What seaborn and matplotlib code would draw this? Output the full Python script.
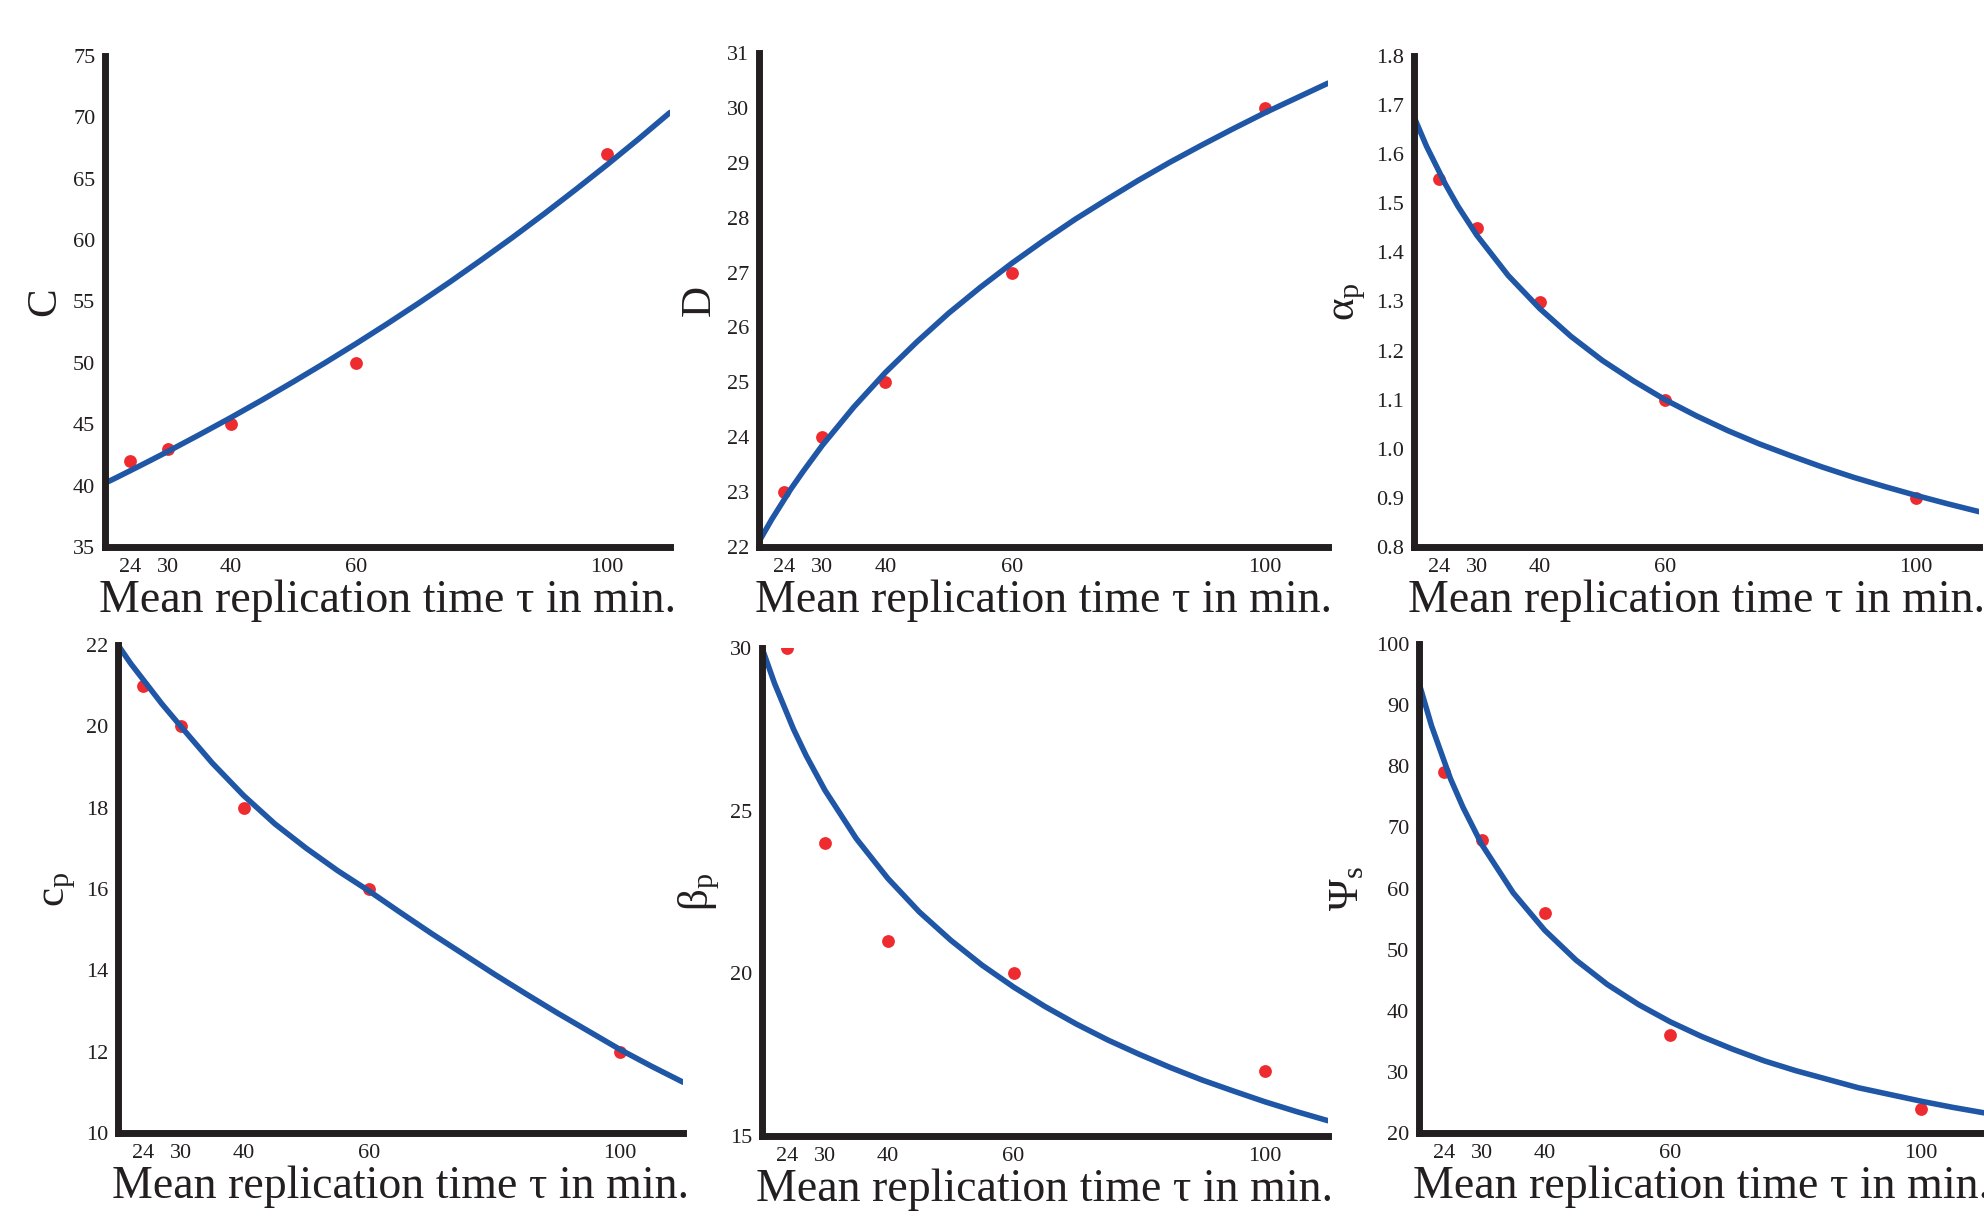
import numpy as np
import pandas as pd
import matplotlib
matplotlib.use("Agg")
import matplotlib.pyplot as plt
import seaborn as sns

# measured points (mean replication time in min.)
tau = [24, 30, 40, 60, 100]
C_vals = [42, 43, 45, 50, 67]
D_vals = [23, 24, 25, 27, 30]
alpha_vals = [1.55, 1.45, 1.30, 1.10, 0.90]
cp_vals = [21, 20, 18, 16, 12]
beta_vals = [30, 24, 21, 20, 17]
psi_vals = [79, 68, 56, 36, 24]

# fitted curves
curve_tau = [20, 22, 25, 27, 30, 35, 40, 45, 50, 55, 60, 65, 70, 75, 80, 85,
             90, 95, 100, 105, 110]
C_fit = [40.2, 40.7, 41.47, 41.99, 42.78, 44.14, 45.53, 46.97, 48.46, 49.99,
         51.57, 53.2, 54.88, 56.61, 58.41, 60.25, 62.16, 64.13, 66.15, 68.24,
         70.4]
D_fit = [22.1, 22.5, 23.05, 23.38, 23.85, 24.55, 25.18, 25.74, 26.26, 26.73,
         27.17, 27.58, 27.97, 28.33, 28.68, 29.01, 29.32, 29.62, 29.91, 30.18,
         30.45]
alpha_fit = [1.676, 1.616, 1.539, 1.494, 1.435, 1.353, 1.286, 1.229, 1.180,
             1.138, 1.100, 1.067, 1.037, 1.010, 0.986, 0.963, 0.942, 0.923,
             0.905, 0.888, 0.872]
cp_fit = [22.0, 21.55, 20.95, 20.55, 20.0, 19.1, 18.3, 17.6, 17.0, 16.45,
          15.95, 15.42, 14.9, 14.4, 13.9, 13.42, 12.95, 12.5, 12.05, 11.64,
          11.25]
beta_fit = [30.0, 28.91, 27.51, 26.70, 25.63, 24.14, 22.92, 21.89, 21.02,
            20.25, 19.58, 18.98, 18.44, 17.95, 17.51, 17.10, 16.72, 16.38,
            16.05, 15.75, 15.47]
psi_fit = [93.6, 86.6, 78.0, 73.3, 67.2, 59.3, 53.2, 48.3, 44.3, 41.0, 38.2,
           35.8, 33.7, 31.8, 30.2, 28.8, 27.4, 26.3, 25.2, 24.2, 23.3]

xticks = [24, 30, 40, 60, 100]
xlabel = "Mean replication time \u03c4 in min."

panels = [
    ("C", C_vals, C_fit, np.arange(35, 76, 5), "{:.0f}"),
    ("D", D_vals, D_fit, np.arange(22, 32, 1), "{:.0f}"),
    (r"$\mathregular{\alpha_p}$", alpha_vals, alpha_fit, np.arange(0.8, 1.85, 0.1), "{:.1f}"),
    (r"$\mathregular{c_p}$", cp_vals, cp_fit, np.arange(10, 23, 2), "{:.0f}"),
    (r"$\mathregular{\beta_p}$", beta_vals, beta_fit, np.arange(15, 31, 5), "{:.0f}"),
    (r"$\mathregular{\Psi_s}$", psi_vals, psi_fit, np.arange(20, 101, 10), "{:.0f}"),
]

# axes rectangles in pixels (left, top, right, bottom)
W, H = 1984, 1216
boxes_px = [
    (105, 56, 670, 547),
    (759, 53, 1328, 547),
    (1414, 56, 1979, 547),
    (118, 645, 683, 1133),
    (762, 648, 1328, 1136),
    (1419, 644, 1984, 1133),
]

BLUE = "#1f56a6"
RED = "#ee2b2e"
INK = "#231f20"

sns.set_theme(style="white")
plt.rcParams["font.family"] = ["Liberation Serif", "DejaVu Serif"]
plt.rcParams["mathtext.default"] = "regular"

fig = plt.figure(figsize=(W / 100, H / 100), dpi=100)

for (ylab, pts, fit, yt, fmt), (x0, y0, x1, y1) in zip(panels, boxes_px):
    ax = fig.add_axes([x0 / W, 1 - y1 / H, (x1 - x0) / W, (y1 - y0) / H])
    sns.scatterplot(x=tau, y=pts, ax=ax, marker="o", s=85, color=RED,
                    edgecolor=RED, linewidth=0, zorder=2)
    sns.lineplot(x=curve_tau, y=fit, ax=ax, color=BLUE, linewidth=4, zorder=3)

    ax.set_xlim(20, 110)
    ax.set_ylim(yt[0], yt[-1])
    ax.set_xticks(xticks)
    ax.set_xticklabels([str(t) for t in xticks])
    ax.set_yticks(yt)
    ax.set_yticklabels([fmt.format(v) for v in yt])

    for side in ["top", "right"]:
        ax.spines[side].set_visible(False)
    for side in ["left", "bottom"]:
        ax.spines[side].set_linewidth(5)
        ax.spines[side].set_color(INK)
        ax.spines[side].set_zorder(4)
    ax.tick_params(direction="in", length=4.5, width=4, color=INK,
                   labelcolor=INK, labelsize=16)
    ax.tick_params(axis="x", pad=8)
    ax.tick_params(axis="y", pad=7)
    ax.set_xlabel(xlabel, fontsize=33, color=INK, labelpad=2)
    ax.set_ylabel(ylab, fontsize=31, color=INK, labelpad=6)
    ax.grid(False)

fig.savefig("out.png", dpi=100)
